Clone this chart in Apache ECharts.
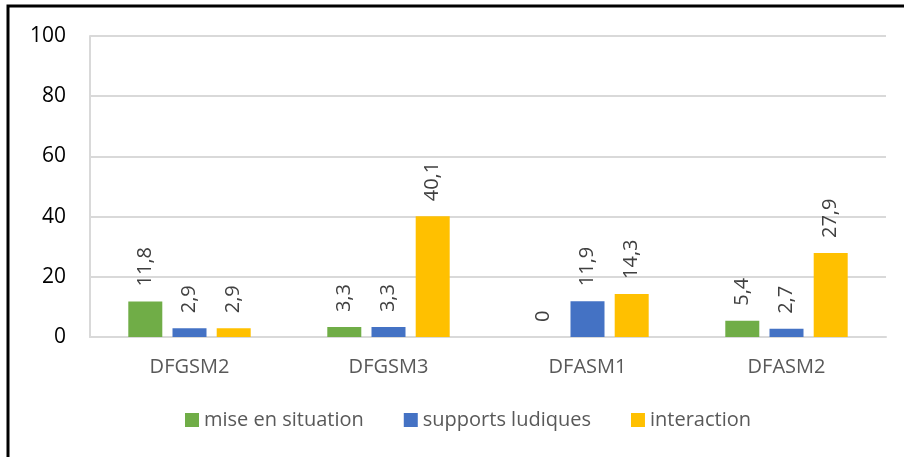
<!DOCTYPE html>
<html>
<head>
<meta charset="utf-8">
<script src="https://cdn.jsdelivr.net/npm/echarts@6/dist/echarts.min.js"></script>
<style>
  html, body { margin: 0; padding: 0; background: #fff; }
  #main { width: 904px; height: 457px; }
</style>
</head>
<body>
<div id="main"></div>
<script>
var categories = ['DFGSM2', 'DFGSM3', 'DFASM1', 'DFASM2'];
var miseEnSituation = [11.8, 3.3, 0, 5.4];
var supportsLudiques = [2.9, 3.3, 11.9, 2.7];
var interaction = [2.9, 40.1, 14.3, 27.9];

var chart = echarts.init(document.getElementById('main'));

// libellé vertical au-dessus de chaque barre, virgule décimale
var barLabel = {
    show: true,
    position: 'top',
    rotate: 90,
    align: 'left',
    verticalAlign: 'middle',
    distance: 15,
    color: '#404040',
    fontSize: 20,
    fontFamily: 'Open Sans',
    formatter: function (p) {
        return String(p.value).replace('.', ',');
    }
};

function serie(name, color, data) {
    return {
        name: name,
        type: 'bar',
        barWidth: 34,
        barGap: '30%',
        itemStyle: { color: color },
        label: barLabel,
        data: data
    };
}

chart.setOption({
    animation: false,
    graphic: [{
        type: 'rect',
        shape: { x: 8, y: 6, width: 1200, height: 1000 },
        style: { fill: 'none', stroke: '#000', lineWidth: 3 }
    }],
    grid: { left: 90, right: 18, top: 36, bottom: 120, containLabel: false },
    legend: {
        left: 180,
        bottom: 22,
        itemWidth: 14,
        itemHeight: 14,
        itemGap: 40,
        icon: 'rect',
        textStyle: { color: '#595959', fontSize: 20, fontFamily: 'Open Sans' },
        data: ['mise en situation', 'supports ludiques', 'interaction']
    },
    xAxis: {
        type: 'category',
        data: categories,
        axisLine: { lineStyle: { color: '#d9d9d9', width: 2 } },
        axisTick: { show: false },
        axisLabel: { color: '#595959', fontSize: 20, margin: 20, fontFamily: 'Open Sans' }
    },
    yAxis: {
        type: 'value',
        min: 0,
        max: 100,
        interval: 20,
        axisLine: { show: true, lineStyle: { color: '#d9d9d9', width: 2 } },
        splitLine: { lineStyle: { color: '#d9d9d9', width: 2 } },
        axisLabel: { color: '#000', fontSize: 21, margin: 24, fontFamily: 'Open Sans' }
    },
    series: [
        serie('mise en situation', '#70ad47', miseEnSituation),
        serie('supports ludiques', '#4472c4', supportsLudiques),
        serie('interaction', '#ffc000', interaction)
    ]
});
</script>
</body>
</html>
